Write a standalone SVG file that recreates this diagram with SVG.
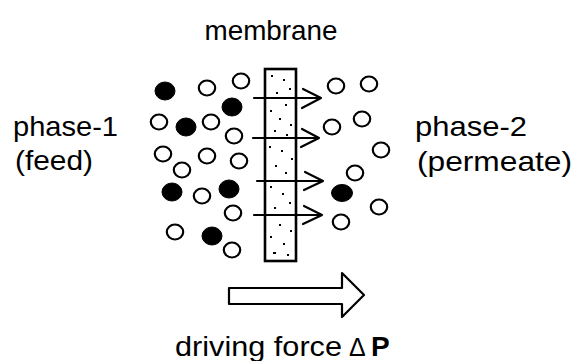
<svg xmlns="http://www.w3.org/2000/svg" width="573" height="361" viewBox="0 0 573 361">
  <style>
    .lbl { font-family: "Liberation Sans", Arial, sans-serif; font-size: 28px; fill: #000; }
    .open { fill: #fff; stroke: #000; stroke-width: 2.2; }
    .solid { fill: #000; stroke: #000; stroke-width: 1; }
    .flux { fill: none; stroke: #000; stroke-width: 2.2; stroke-linecap: round; stroke-linejoin: round; }
    .dot { fill: #000; }
  </style>
  <rect width="573" height="361" fill="#fff"/>

  <g id="labels">
    <text class="lbl" x="271" y="40" text-anchor="middle" textLength="133" lengthAdjust="spacingAndGlyphs">membrane</text>
    <text class="lbl" x="13" y="136" textLength="105" lengthAdjust="spacingAndGlyphs">phase-1</text>
    <text class="lbl" x="15" y="170" textLength="78" lengthAdjust="spacingAndGlyphs">(feed)</text>
    <text class="lbl" x="415" y="136" textLength="112" lengthAdjust="spacingAndGlyphs">phase-2</text>
    <text class="lbl" x="417" y="171" textLength="155" lengthAdjust="spacingAndGlyphs">(permeate)</text>
    <text class="lbl" x="175" y="356"><tspan textLength="167" lengthAdjust="spacingAndGlyphs">driving force</tspan><tspan x="349" font-size="25">Δ</tspan><tspan x="371" font-weight="bold">P</tspan></text>
  </g>

  <g id="membrane">
    <rect x="265" y="69" width="31" height="192" fill="#fff" stroke="#000" stroke-width="2.6"/>
    <g class="dot">
      <rect x="271" y="75" width="2" height="2"/><rect x="283" y="79" width="2" height="2"/><rect x="289" y="88" width="2" height="2"/>
      <rect x="276" y="92" width="2" height="2"/><rect x="285" y="104" width="2" height="2"/><rect x="270" y="110" width="2" height="2"/>
      <rect x="279" y="118" width="2" height="2"/><rect x="290" y="124" width="2" height="2"/><rect x="274" y="130" width="2" height="2"/>
      <rect x="286" y="134" width="2" height="2"/><rect x="269" y="146" width="2" height="2"/><rect x="281" y="150" width="2" height="2"/>
      <rect x="291" y="158" width="2" height="2"/><rect x="275" y="165" width="2" height="2"/><rect x="285" y="172" width="2" height="2"/>
      <rect x="270" y="186" width="2" height="2"/><rect x="282" y="193" width="2" height="2"/><rect x="289" y="202" width="2" height="2"/>
      <rect x="274" y="207" width="2" height="2"/><rect x="279" y="224" width="2" height="2"/><rect x="290" y="230" width="2" height="2"/>
      <rect x="270" y="236" width="2" height="2"/><rect x="283" y="243" width="2" height="2"/><rect x="273" y="252" width="3" height="2"/>
      <rect x="287" y="254" width="2" height="2"/>
    </g>
  </g>

  <g id="connectors">
    <path class="flux" d="M254 98 H321 M303 89 L321 98 L302 108"/>
    <path class="flux" d="M253 138 H319 M302 129 L319 138 L301 147"/>
    <path class="flux" d="M257 181 H323 M305 172 L323 181 L304 190"/>
    <path class="flux" d="M254 215 H322 M304 206 L322 215 L303 224"/>
  </g>

  <g id="feed-particles">
    <ellipse class="solid" cx="165" cy="91" rx="10" ry="9"/>
    <ellipse class="open" cx="207" cy="88" rx="8.2" ry="7.5"/>
    <ellipse class="open" cx="241" cy="81" rx="8.2" ry="7.5"/>
    <ellipse class="solid" cx="232" cy="107" rx="10" ry="9"/>
    <ellipse class="open" cx="159" cy="122" rx="8.2" ry="7.5"/>
    <ellipse class="solid" cx="186" cy="127" rx="10" ry="9"/>
    <ellipse class="open" cx="211" cy="122" rx="8.2" ry="7.5"/>
    <ellipse class="open" cx="234" cy="136" rx="8.2" ry="7.5"/>
    <ellipse class="open" cx="163" cy="154" rx="8.2" ry="7.5"/>
    <ellipse class="open" cx="207" cy="156" rx="8.2" ry="7.5"/>
    <ellipse class="open" cx="239" cy="161" rx="8.2" ry="7.5"/>
    <ellipse class="open" cx="182" cy="170" rx="8.2" ry="7.5"/>
    <ellipse class="solid" cx="172" cy="192" rx="10" ry="9"/>
    <ellipse class="open" cx="202" cy="196" rx="8.2" ry="7.5"/>
    <ellipse class="solid" cx="229" cy="189" rx="10" ry="9"/>
    <ellipse class="open" cx="233" cy="213" rx="8.2" ry="7.5"/>
    <ellipse class="open" cx="175" cy="232" rx="8.2" ry="7.5"/>
    <ellipse class="solid" cx="212" cy="236" rx="10" ry="9"/>
    <ellipse class="open" cx="232" cy="250" rx="8.2" ry="7.5"/>
  </g>

  <g id="permeate-particles">
    <ellipse class="open" cx="336" cy="86" rx="8.2" ry="7.5"/>
    <ellipse class="open" cx="369" cy="84" rx="8.2" ry="7.5"/>
    <ellipse class="open" cx="332" cy="127" rx="8.2" ry="7.5"/>
    <ellipse class="open" cx="362" cy="119" rx="8.2" ry="7.5"/>
    <ellipse class="open" cx="381" cy="150" rx="8.2" ry="7.5"/>
    <ellipse class="open" cx="355" cy="173" rx="8.2" ry="7.5"/>
    <ellipse class="solid" cx="342" cy="193" rx="10.5" ry="8.5"/>
    <ellipse class="open" cx="379" cy="207" rx="8.2" ry="7.5"/>
    <ellipse class="open" cx="341" cy="222" rx="8.2" ry="7.5"/>
  </g>

  <g id="driving-force-arrow">
    <polygon points="229,288 342,288 342,273 364,295 342,317 342,304 229,304" fill="#fff" stroke="#000" stroke-width="2.2" stroke-linejoin="round"/>
  </g>
</svg>
